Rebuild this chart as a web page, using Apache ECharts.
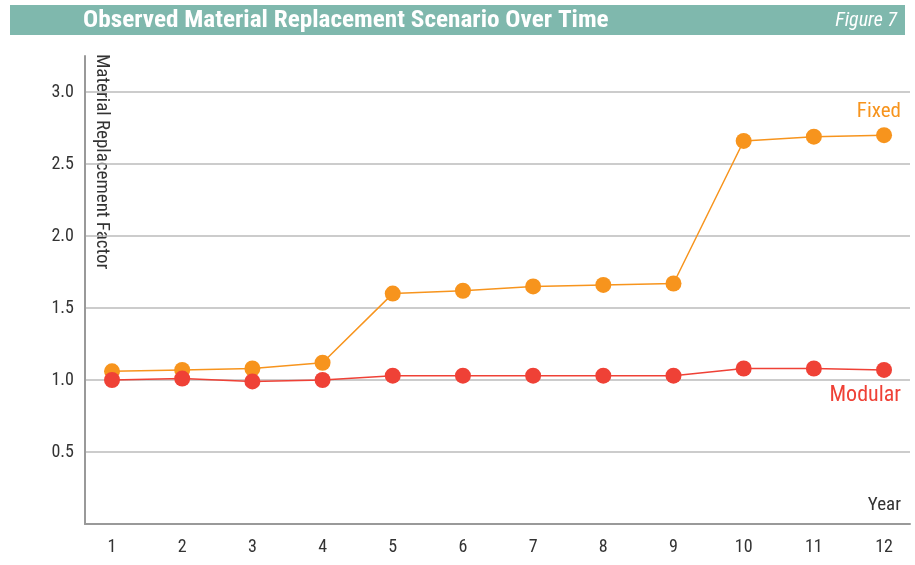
<!DOCTYPE html>
<html><head><meta charset="utf-8">
<script src="https://cdn.jsdelivr.net/npm/echarts@6/dist/echarts.min.js"></script>
<style>html,body{margin:0;padding:0;background:#fff}#c{width:915px;height:565px}</style>
</head><body><div id="c"></div>
<script>
const years = [1,2,3,4,5,6,7,8,9,10,11,12];
const fixedValues = [1.06,1.07,1.08,1.12,1.60,1.62,1.65,1.66,1.67,2.66,2.69,2.70];
const modularValues = [1.00,1.01,0.99,1.00,1.03,1.03,1.03,1.03,1.03,1.08,1.08,1.07];
const yTicks = [0.5,1.0,1.5,2.0,2.5,3.0];

const FONT = "'Roboto Condensed','Roboto',sans-serif";
const chart = echarts.init(document.getElementById('c'));
chart.setOption({
  animation:false,
  grid:{left:85,right:5,top:56,bottom:41},
  graphic:[
    {type:'rect',shape:{x:10,y:5,width:895,height:30},style:{fill:'#7fb8ad'}},
    {type:'text',x:83,y:21,scaleX:1.05,style:{text:'Observed Material Replacement Scenario Over Time',fill:'#fff',font:'bold 24px '+FONT,textVerticalAlign:'middle'}},
    {type:'text',x:897,y:21,style:{text:'Figure 7',fill:'#fff',font:'italic 20px '+FONT,textAlign:'right',textVerticalAlign:'middle'}},
    {type:'text',x:111,y:54,rotation:-Math.PI/2,style:{text:'Material Replacement Factor',fill:'#333',font:'19px '+FONT,textAlign:'left',textVerticalAlign:'top'}},
    {type:'text',x:901,y:112,style:{text:'Fixed',fill:'#f7941d',font:'21px '+FONT,textAlign:'right',textVerticalAlign:'middle'}},
    {type:'text',x:901,y:395,style:{text:'Modular',fill:'#ef4136',font:'22px '+FONT,textAlign:'right',textVerticalAlign:'middle'}},
    {type:'text',x:901,y:505,style:{text:'Year',fill:'#333',font:'19px '+FONT,textAlign:'right',textVerticalAlign:'middle'}}
  ],
  xAxis:{type:'value',min:0.615,max:12.37,
    axisLine:{show:true,lineStyle:{color:'#999',width:2}},
    axisTick:{show:false},splitLine:{show:false},
    axisLabel:{customValues:years,color:'#333',fontSize:18,fontFamily:FONT,margin:14}
  },
  yAxis:{type:'value',min:0,max:3.25,interval:0.5,
    axisLine:{show:true,lineStyle:{color:'#999',width:2}},
    axisTick:{show:false},
    axisLabel:{customValues:yTicks,formatter:v=>v.toFixed(1),color:'#333',fontSize:18,fontFamily:FONT,margin:11},
    splitLine:{show:true,showMinLine:false,showMaxLine:false,lineStyle:{color:'#bbb',width:1.5}}
  },
  series:[
    {type:'line',data:years.map((y,i)=>[y,fixedValues[i]]),symbol:'circle',symbolSize:16,
      itemStyle:{color:'#f7941d'},lineStyle:{color:'#f7941d',width:1.5}},
    {type:'line',data:years.map((y,i)=>[y,modularValues[i]]),symbol:'circle',symbolSize:16,
      itemStyle:{color:'#ef4136'},lineStyle:{color:'#ef4136',width:1.5}}
  ]
});
</script></body></html>
